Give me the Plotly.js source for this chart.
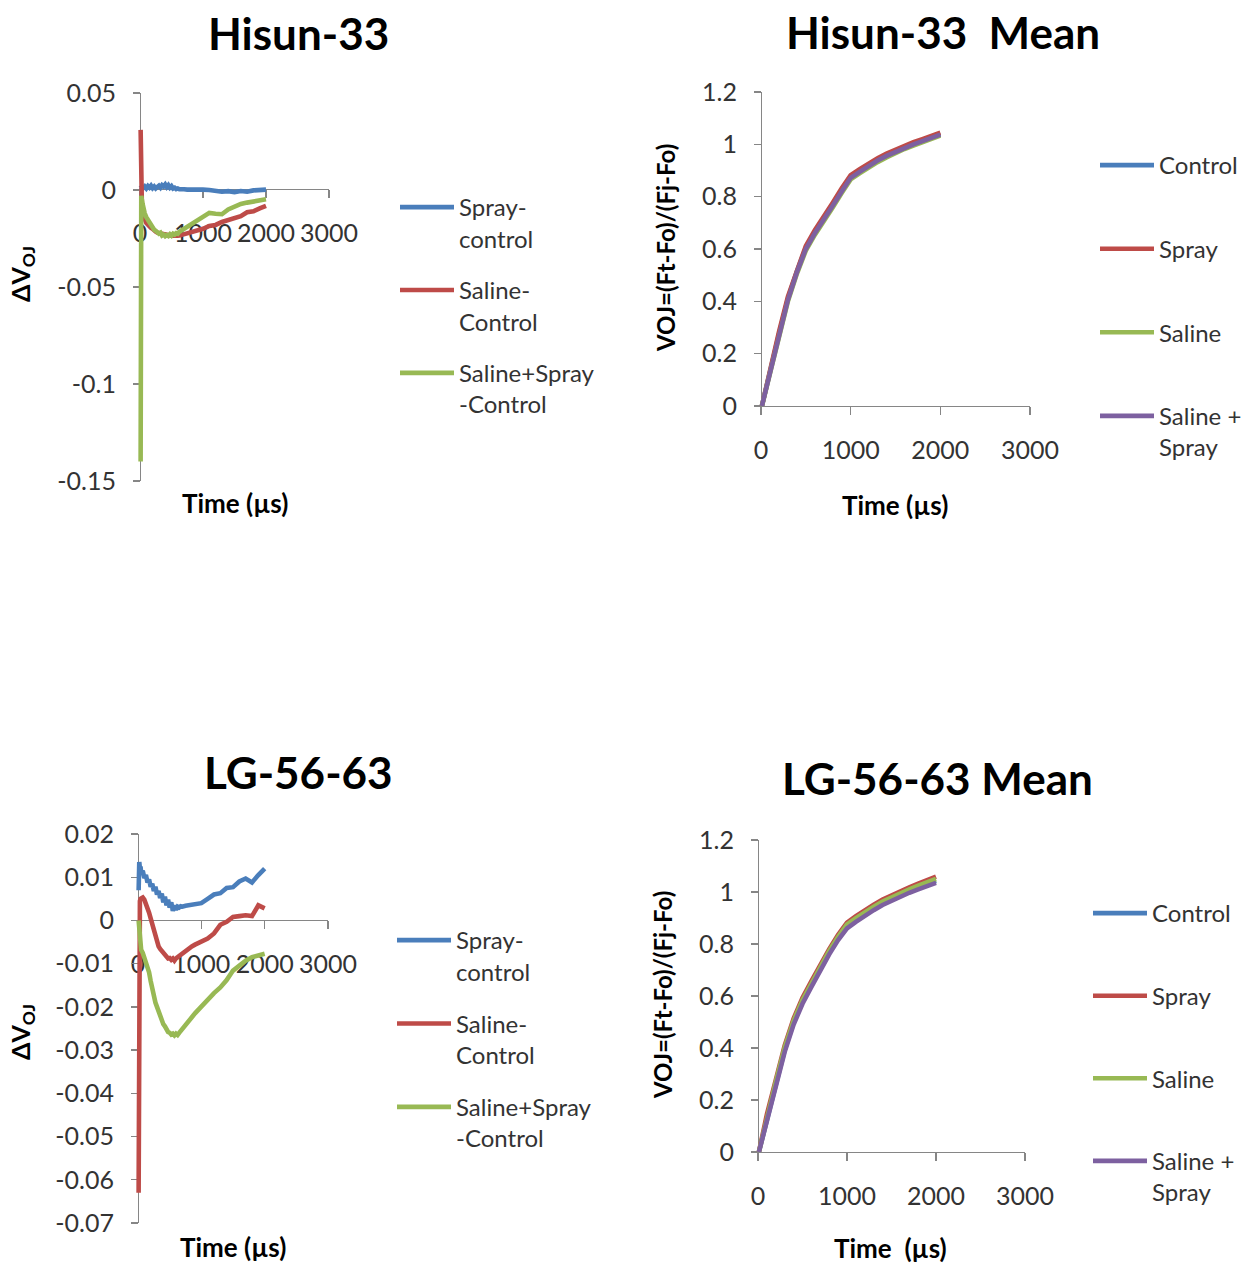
<!DOCTYPE html>
<html><head><meta charset="utf-8">
<script src="https://cdn.plot.ly/plotly-3.0.1.min.js"></script>
<style>html,body{margin:0;padding:0;background:#fff}#chart{width:1254px;height:1263px}</style>
</head><body><div id="chart"></div>
<script>
// ---------- data ----------
const tLeft = [10,20,30,40,50,75,100,125,150,175,200,225,250,275,300,325,350,375,400,425,450,475,500,525,550,575,600,625,650,675,700,750,800,850,900,950,1000,1100,1200,1300,1400,1500,1600,1700,1800,1900,2000];

const hisunSprayCtrl = [0.001,0.0015,0.0005,0.002,0.001,
  0.0018,0.0008,0.002,0.0012,0.0022,0.001,0.0018,0.0008,0.0015,0.0022,0.0012,0.0025,0.0018,0.0028,0.0015,0.0025,0.0012,0.002,0.0008,0.0012,0.0005,0.0008,0.0004,0.0006,0.0003,0.0004,
  0.0002,0.0003,0.0002,0.0003,0.0002,0.0002,
  0.0,-0.0003,-0.0009,-0.0006,-0.0011,-0.0005,-0.0009,-0.0002,0.0002,0.0002];
const hisunSalineCtrl = [0.031,-0.004,-0.008,-0.010,-0.012,
  -0.015,-0.017,-0.018,-0.019,-0.0195,-0.020,-0.021,-0.0215,-0.022,-0.0222,-0.0225,-0.0228,-0.023,-0.0232,-0.0233,-0.0235,-0.0234,-0.0236,-0.0235,-0.0237,-0.0236,-0.0236,-0.0235,-0.0233,-0.023,-0.0228,
  -0.0223,-0.022,-0.0215,-0.021,-0.0205,-0.020,
  -0.0185,-0.018,-0.0165,-0.0155,-0.0145,-0.0135,-0.0115,-0.011,-0.0095,-0.0082];
const hisunBothCtrl = [-0.140,-0.003,-0.005,-0.007,-0.009,
  -0.012,-0.014,-0.0155,-0.017,-0.018,-0.019,-0.0205,-0.021,-0.022,-0.0225,-0.022,-0.0235,-0.023,-0.0238,-0.0232,-0.0237,-0.0228,-0.0235,-0.0225,-0.023,-0.0222,-0.0225,-0.0215,-0.021,-0.0205,-0.020,
  -0.0188,-0.0178,-0.0168,-0.0155,-0.0145,-0.0135,
  -0.0118,-0.0122,-0.0125,-0.010,-0.0083,-0.0072,-0.0065,-0.006,-0.0055,-0.0048];

const lgSprayCtrl = [0.007,0.0135,0.012,0.0125,0.011,
  0.0115,0.0098,0.0105,0.0088,0.0095,0.0078,0.0085,0.0068,0.0078,0.006,0.0068,0.0052,0.0062,0.0042,0.0055,0.0035,0.0048,0.003,0.0042,0.0022,0.0035,0.0025,0.0032,0.003,0.0033,0.0032,
  0.0034,0.0035,0.0036,0.0037,0.0038,0.004,
  0.005,0.006,0.0063,0.0075,0.0077,0.009,0.0097,0.0088,0.0105,0.012];
const lgSalineCtrl = [-0.063,0.003,0.0045,0.005,0.0052,
  0.0053,0.0048,0.004,0.003,0.0018,0.0005,-0.0008,-0.002,-0.0035,-0.005,-0.006,-0.0066,-0.007,-0.0076,-0.008,-0.0083,-0.0088,-0.0087,-0.0091,-0.0088,-0.0093,-0.0088,-0.0085,-0.0082,-0.0078,-0.0075,
  -0.007,-0.0065,-0.006,-0.0056,-0.0052,-0.0048,
  -0.0042,-0.003,-0.001,-0.0003,0.0008,0.001,0.0012,0.001,0.0035,0.0028];
const lgBothCtrl = [0.0,-0.003,-0.005,-0.006,-0.0068,
  -0.0075,-0.0085,-0.0095,-0.0105,-0.012,-0.014,-0.016,-0.0178,-0.019,-0.020,-0.0212,-0.0222,-0.023,-0.024,-0.0245,-0.0255,-0.0258,-0.026,-0.0264,-0.0262,-0.0266,-0.0262,-0.0265,-0.026,-0.0255,-0.025,
  -0.0242,-0.0233,-0.0224,-0.0215,-0.0207,-0.020,
  -0.0185,-0.0168,-0.0155,-0.0138,-0.0116,-0.0103,-0.0093,-0.0085,-0.0082,-0.0077];

const tMean = [10,100,200,300,400,500,600,700,800,900,1000,1100,1200,1300,1400,1500,1600,1700,1800,1900,2000];
const hisunControl = [0,0.135,0.275,0.41,0.515,0.605,0.665,0.715,0.77,0.825,0.876,0.899,0.922,0.942,0.96,0.976,0.991,1.004,1.016,1.028,1.041];
const hisunSpray   = [0,0.14,0.283,0.418,0.522,0.612,0.672,0.722,0.777,0.832,0.882,0.905,0.927,0.947,0.965,0.98,0.995,1.008,1.02,1.032,1.045];
const hisunSaline  = [0,0.128,0.266,0.4,0.505,0.594,0.654,0.704,0.759,0.814,0.866,0.889,0.912,0.932,0.95,0.967,0.982,0.995,1.007,1.019,1.033];
const hisunBoth    = [0,0.13,0.27,0.405,0.51,0.6,0.66,0.71,0.765,0.82,0.872,0.895,0.918,0.938,0.956,0.972,0.987,1.0,1.012,1.024,1.037];
const lgControl = [0,0.127,0.258,0.393,0.498,0.578,0.643,0.708,0.768,0.823,0.868,0.892,0.917,0.937,0.957,0.974,0.99,1.004,1.017,1.03,1.043];
const lgSpray   = [0,0.145,0.278,0.41,0.513,0.593,0.657,0.72,0.78,0.835,0.882,0.907,0.931,0.951,0.971,0.988,1.004,1.018,1.032,1.045,1.059];
const lgSaline  = [0,0.137,0.27,0.402,0.505,0.585,0.649,0.713,0.773,0.828,0.875,0.899,0.923,0.943,0.963,0.98,0.996,1.01,1.024,1.037,1.05];
const lgBoth    = [0,0.12,0.25,0.385,0.49,0.57,0.635,0.70,0.76,0.815,0.86,0.885,0.91,0.93,0.95,0.967,0.983,0.997,1.01,1.023,1.035];

const diffNames = ['Spray-<br>control','Saline-<br>Control','Saline+Spray<br>-Control'];
const meanNames = ['Control','Spray','Saline','Saline +<br>Spray'];
const xTickVals = [0,1000,2000,3000];
const xTickText = ['0','1000','2000','3000'];
const yTickValsH = [-0.15,-0.1,-0.05,0,0.05];
const yTickTextH = ['-0.15','-0.1','-0.05','0','0.05'];
const yTickValsL = [-0.07,-0.06,-0.05,-0.04,-0.03,-0.02,-0.01,0,0.01,0.02];
const yTickTextL = ['-0.07','-0.06','-0.05','-0.04','-0.03','-0.02','-0.01','0','0.01','0.02'];
const yTickValsM = [0,0.2,0.4,0.6,0.8,1,1.2];
const yTickTextM = ['0','0.2','0.4','0.6','0.8','1','1.2'];
const titles = ['Hisun-33','Hisun-33\u00a0 Mean','LG-56-63','LG-56-63 Mean'];

// ---------- styling ----------
const W = 1254, H = 1263;
const px = v => v / W;
const py = v => 1 - v / H;
const C = {blue:'#4A7EBB', red:'#BE4B48', green:'#98B954', purple:'#7D60A0'};
const FONT = 'Lato, "Open Sans", sans-serif';
const tickFont = {family: FONT, size: 25, color: '#333333'};
const LW = 4.6;

function line(x, y, name, color, xa, ya, legend, grp) {
  return {type:'scatter', mode:'lines', x:x, y:y, name:name, xaxis:xa, yaxis:ya,
    legend:legend, legendgroup:grp, line:{color:color, width:LW}, hoverinfo:'skip'};
}
const traces = [
  line(tLeft, hisunSprayCtrl, diffNames[0], C.blue, 'x', 'y', 'legend', 'a1'),
  line(tLeft, hisunSalineCtrl, diffNames[1], C.red, 'x', 'y', 'legend', 'a2'),
  line(tLeft, hisunBothCtrl, diffNames[2], C.green, 'x', 'y', 'legend', 'a3'),
  line(tMean, hisunControl, meanNames[0], C.blue, 'x2', 'y2', 'legend2', 'b1'),
  line(tMean, hisunSpray, meanNames[1], C.red, 'x2', 'y2', 'legend2', 'b2'),
  line(tMean, hisunSaline, meanNames[2], C.green, 'x2', 'y2', 'legend2', 'b3'),
  line(tMean, hisunBoth, meanNames[3], C.purple, 'x2', 'y2', 'legend2', 'b4'),
  line(tLeft, lgSprayCtrl, diffNames[0], C.blue, 'x3', 'y3', 'legend3', 'c1'),
  line(tLeft, lgSalineCtrl, diffNames[1], C.red, 'x3', 'y3', 'legend3', 'c2'),
  line(tLeft, lgBothCtrl, diffNames[2], C.green, 'x3', 'y3', 'legend3', 'c3'),
  line(tMean, lgControl, meanNames[0], C.blue, 'x4', 'y4', 'legend4', 'd1'),
  line(tMean, lgSpray, meanNames[1], C.red, 'x4', 'y4', 'legend4', 'd2'),
  line(tMean, lgSaline, meanNames[2], C.green, 'x4', 'y4', 'legend4', 'd3'),
  line(tMean, lgBoth, meanNames[3], C.purple, 'x4', 'y4', 'legend4', 'd4'),
];

const axBase = {showgrid:false, zeroline:false, showline:true, linecolor:'#868686', linewidth:1.3,
  ticks:'outside', tickcolor:'#868686', tickwidth:1.3, tickfont:tickFont, fixedrange:true, layer:'below traces'};

function xax(x0px, x3000px, extra) {
  const per = (x3000px - x0px) / 3000;
  return Object.assign({}, axBase, {domain:[px(x0px - 30*per), px(x3000px)], range:[-30, 3000],
    tickmode:'array', tickvals:xTickVals, ticktext:xTickText, ticklen:8}, extra);
}
function yax(top, bottom, rng, vals, text, extra) {
  return Object.assign({}, axBase, {domain:[py(bottom), py(top)], range:rng,
    tickmode:'array', tickvals:vals, ticktext:text, ticklen:7, ticklabelstandoff:12}, extra);
}

function legend(xp, yp, gap) {
  return {x:px(xp), y:py(yp), xanchor:'left', yanchor:'top', bgcolor:'rgba(0,0,0,0)',
    font:{family:FONT, size:24, color:'#333333'}, traceorder:'grouped', tracegroupgap:gap,
    valign:'top', itemwidth:54, itemclick:false, itemdoubleclick:false};
}

function ann(text, xp, yp, size, bold, rot) {
  return {text: bold ? '<b>' + text + '</b>' : text, x:px(xp), y:py(yp), xref:'paper', yref:'paper',
    xanchor:'center', yanchor:'middle', showarrow:false, textangle:rot || 0,
    font:{family:FONT, size:size, color:'#000000'}};
}

const layout = {
  width:W, height:H, margin:{l:0, r:0, t:0, b:0}, paper_bgcolor:'#ffffff', plot_bgcolor:'rgba(0,0,0,0)',
  showlegend:true,
  xaxis: xax(140, 329, {anchor:'free', position:py(189), ticklabelstandoff:14}),
  yaxis: yax(93, 481, [-0.15, 0.05], yTickValsH, yTickTextH, {anchor:'free', position:px(140)}),
  xaxis2: xax(761, 1030, {anchor:'y2', ticklabelstandoff:14}),
  yaxis2: yax(92, 406, [0, 1.2], yTickValsM, yTickTextM, {anchor:'free', position:px(761)}),
  xaxis3: xax(138, 328, {anchor:'free', position:py(920), ticklabelstandoff:14}),
  yaxis3: yax(834, 1223, [-0.07, 0.02], yTickValsL, yTickTextL, {anchor:'free', position:px(138)}),
  xaxis4: xax(758, 1025, {anchor:'y4', ticklabelstandoff:14}),
  yaxis4: yax(840, 1152, [0, 1.2], yTickValsM, yTickTextM, {anchor:'free', position:px(758)}),
  legend: legend(395, 185, 17.5),
  legend2: legend(1095, 143, 49.4),
  legend3: legend(392, 918, 18),
  legend4: legend(1088, 891, 48.4),
  annotations: [
    ann(titles[0], 298, 33, 44, true),
    ann(titles[1], 943, 32, 44, true),
    ann(titles[2], 298, 772, 44, true),
    ann(titles[3], 937, 778, 44, true),
    ann('Time (µs)', 235, 503, 26, true),
    ann('Time (µs)', 895, 505, 26, true),
    ann('Time (µs)', 233, 1247, 26, true),
    ann('Time\u00a0 (µs)', 890, 1248, 26, true),
    ann('ΔV<sub>OJ</sub>', 22, 274, 25, true, -90),
    ann('ΔV<sub>OJ</sub>', 22, 1032, 25, true, -90),
    ann('VOJ=(Ft-Fo)/(Fj-Fo)', 665, 248, 24, true, -90),
    ann('VOJ=(Ft-Fo)/(Fj-Fo)', 662, 995, 24, true, -90),
  ]
};

Plotly.newPlot('chart', traces, layout, {staticPlot:true, displayModeBar:false});
</script>
</body></html>
